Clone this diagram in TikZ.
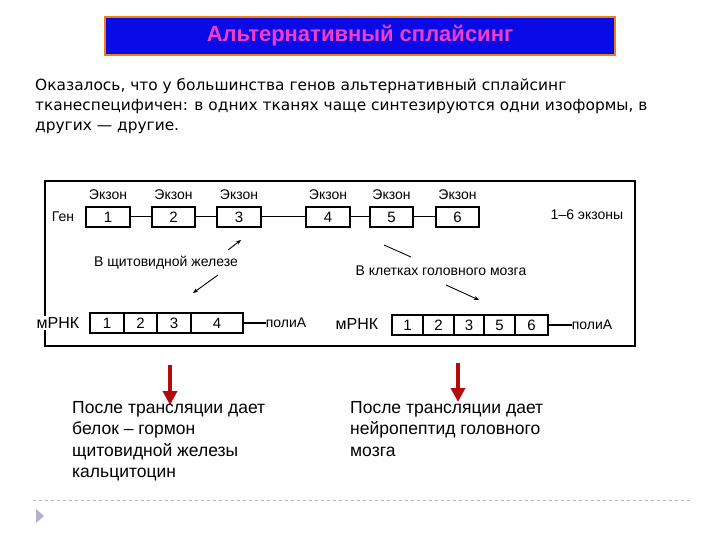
\documentclass[tikz,border=0pt]{standalone}
\usepackage{fontspec}
\setmainfont{Liberation Sans}
\newfontfamily\dejavu{DejaVu Sans}
\usetikzlibrary{arrows.meta}
\definecolor{titleblue}{RGB}{10,10,230}
\definecolor{titlepink}{RGB}{240,60,200}
\definecolor{darkred}{RGB}{180,10,10}
\tikzset{
  ex/.style={draw, line width=1.1pt, minimum height=20pt, inner sep=0pt, font=\fontsize{15}{15}\selectfont},
  lbl/.style={font=\fontsize{14}{14}\selectfont, inner sep=0pt},
  thin arrow/.style={line width=0.9pt, -{Stealth[length=5pt,width=4pt]}},
  red arrow/.style={line width=4pt, darkred, -{Triangle[length=14pt,width=14pt]}},
  body/.style={font=\fontsize{17.5}{21.5}\selectfont, align=left, anchor=north west, inner sep=0pt},
}
\begin{document}
\begin{tikzpicture}[x=1pt,y=-1pt]
\useasboundingbox (0,0) rectangle (720,540);
% title
\node[draw=orange!70!brown, line width=1.2pt, fill=titleblue, minimum width=510pt, minimum height=38pt, text=titlepink, font=\bfseries\fontsize{22}{22}\selectfont] (title) at (360,36) {Альтернативный сплайсинг};
% paragraph
\node[anchor=north west, inner sep=0pt, align=left, font=\dejavu\fontsize{15.4}{20}\selectfont] (para) at (35,78) {Оказалось, что у большинства генов альтернативный сплайсинг\\тканеспецифичен: в одних тканях чаще синтезируются одни изоформы, в\\других — другие.};
% frame
\node[draw, line width=1.3pt, minimum width=590pt, minimum height=165pt, inner sep=0pt] (frame) at (340,263.5) {};
% gene
\node[lbl] (gen) at (63,217) {Ген};
\foreach \i/\a/\b in {1/86/130, 2/152/195, 3/217/261, 4/306/350, 5/370/413, 6/436/479}{
  \node[ex, minimum width={\b-\a}] (g\i) at ({(\a+\b)/2},217) {\i};
  \node[lbl] (e\i) at ({(\a+\b)/2},195) {Экзон};
}
\foreach \i/\j in {1/2,2/3,3/4,4/5,5/6}{\draw[line width=1pt] (g\i) -- (g\j);}
\node[lbl] (range) at (587,215) {1–6 экзоны};
% labels
\node[lbl] (thy) at (166,263) {В щитовидной железе};
\node[lbl] (brain) at (441,271) {В клетках головного мозга};
\coordinate (a1s) at (228,250); \coordinate (a1e) at (241,240);
\coordinate (a2s) at (218,275); \coordinate (a2e) at (193,293);
\coordinate (b1s) at (384,245); \coordinate (b1e) at (411,257);
\coordinate (b2s) at (446,285); \coordinate (b2e) at (479,300);
\draw[thin arrow] (a1s) -- (a1e);
\draw[thin arrow] (a2s) -- (a2e);
\draw[line width=0.9pt] (b1s) -- (b1e);
\draw[thin arrow] (b2s) -- (b2e);
% mRNA left
\node[fill=white, font=\fontsize{16}{16}\selectfont, inner sep=1pt] (m1) at (58,323) {мРНК};
\foreach \i/\t/\a/\b in {1/1/90/124, 2/2/124/157, 3/3/157/191, 4/4/191/243}{
  \node[ex, minimum width={\b-\a}] (l\i) at ({(\a+\b)/2},323) {\t};
}
\node[lbl] (pa1) at (286,323) {полиА};
\draw[line width=1.3pt] (l4) -- (pa1);
% mRNA right
\node[font=\fontsize{16}{16}\selectfont, inner sep=1pt] (m2) at (357,324) {мРНК};
\foreach \i/\t/\a/\b in {1/1/392/423, 2/2/423/454, 3/3/454/484, 4/5/484/515, 5/6/515/548}{
  \node[ex, minimum width={\b-\a}] (r\i) at ({(\a+\b)/2},325) {\t};
}
\node[lbl] (pa2) at (592,325) {полиА};
\draw[line width=1.3pt] (r5) -- (pa2);
% red arrows
\coordinate (ra1) at (170,365); \coordinate (ra1e) at (170,405);
\coordinate (ra2) at (458,363); \coordinate (ra2e) at (458,402);
\draw[red arrow] (ra1) -- (ra1e);
\draw[red arrow] (ra2) -- (ra2e);
% bottom texts
\node[body] (t1) at (72,401) {После трансляции дает\\белок – гормон\\щитовидной железы\\кальцитоцин};
\node[body] (t2) at (350,401) {После трансляции дает\\нейропептид головного\\мозга};
% footer
\coordinate (d1) at (33,500); \coordinate (d2) at (690,500);
\draw[dashed, color=gray!60, line width=0.6pt] (d1) -- (d2);
\fill[color=blue!20!gray!50] (36,509) -- (44,516) -- (36,523) -- cycle;
\end{tikzpicture}
\end{document}
